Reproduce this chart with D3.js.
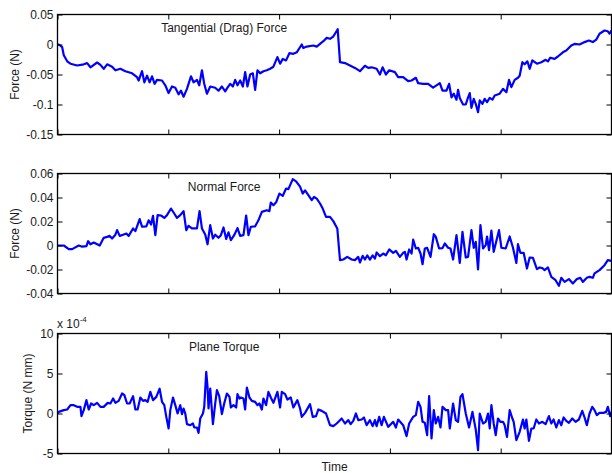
<!DOCTYPE html>
<html>
<head>
<meta charset="utf-8">
<script src="https://cdn.jsdelivr.net/npm/d3@7"></script>
<style>
  html, body { margin: 0; padding: 0; background: #fff; }
  svg { display: block; }
  text { font-family: "Liberation Sans", Arial, Helvetica, sans-serif; fill: #1a1a1a; }
</style>
</head>
<body>
<svg id="chart" width="612" height="473"></svg>
<script>
// ---------------- DATA ----------------
// time axis (sample units, unlabeled ticks)
const timeDomain = [0, 555];
const timeTicks = [0, 111, 222, 333, 444, 555];

// Panel titles / labels
const titles = ["Tangential (Drag) Force", "Normal Force", "Plane Torque"];
const yLabels = ["Force (N)", "Force (N)", "Torque (N mm)"];
const xLabel = "Time";

// Y tick values and labels
const tangTicks = [-0.15, -0.1, -0.05, 0, 0.05];
const tangTickLabels = ["-0.15", "-0.1", "-0.05", "0", "0.05"];
const normTicks = [-0.04, -0.02, 0, 0.02, 0.04, 0.06];
const normTickLabels = ["-0.04", "-0.02", "0", "0.02", "0.04", "0.06"];
const torqTicks = [-5, 0, 5, 10];          // in units of 10^-4
const torqTickLabels = ["-5", "0", "5", "10"];
const torqExponent = "-4";

// Tangential (drag) force [N]: [time, value]
const tangential = [[0,0],[1.3,0],[4.7,-0.0045],[6.3,-0.018],[9.7,-0.028],[13,-0.032],[19.7,-0.035],[26.3,-0.033],[29.7,-0.031],[33,-0.038],[39.7,-0.030],[43,-0.034],[46.3,-0.0405],[49.7,-0.033],[54.7,-0.037],[58,-0.043],[63,-0.0405],[68,-0.0445],[74.7,-0.048],[79.7,-0.0545],[81.3,-0.06],[84.7,-0.0445],[87,-0.063],[89.7,-0.052],[92.3,-0.063],[94.7,-0.053],[97.3,-0.0655],[99.7,-0.059],[104.7,-0.06],[108,-0.068],[111.3,-0.081],[114.7,-0.07],[118,-0.072],[121.3,-0.083],[123.7,-0.077],[126.3,-0.087],[129.7,-0.074],[133.7,-0.053],[136.3,-0.063],[139.7,-0.059],[142,-0.068],[144.7,-0.043],[147,-0.0655],[149.7,-0.082],[153,-0.07],[158,-0.072],[161.3,-0.077],[164.7,-0.07],[168,-0.078],[170.3,-0.072],[173,-0.0655],[175.7,-0.07],[178,-0.059],[180.3,-0.068],[183,-0.06],[185.7,-0.07],[188,-0.046],[190.3,-0.07],[193,-0.05],[195.7,-0.048],[198,-0.0755],[200.3,-0.043],[203,-0.048],[206.3,-0.0445],[209.7,-0.043],[213,-0.0405],[216.3,-0.037],[220.3,-0.021],[223,-0.032],[225.7,-0.024],[229,-0.0265],[232.3,-0.0145],[236.3,-0.0155],[239.7,-0.013],[244.7,0],[246.3,-0.006],[249.7,-0.0035],[256.3,-0.0017],[259.7,-0.0035],[263,0.001],[266.3,0.0055],[269.7,0.011],[273,0.0095],[276.3,0.0133],[280.7,0.0255],[283,-0.0295],[288,-0.031],[293,-0.035],[298,-0.039],[303,-0.0445],[308,-0.0355],[311.3,-0.039],[314.7,-0.038],[319.7,-0.0405],[323,-0.05],[325.7,-0.038],[329,-0.05],[332.3,-0.043],[338,-0.046],[341.3,-0.0545],[346.3,-0.0545],[351.3,-0.061],[354.7,-0.06],[359,-0.0555],[361.3,-0.0645],[366.3,-0.0655],[371.3,-0.0655],[376.3,-0.072],[383,-0.0645],[385.7,-0.077],[389.7,-0.077],[392.3,-0.0655],[394.7,-0.088],[397,-0.082],[399.7,-0.092],[401.3,-0.0755],[403,-0.089],[406.3,-0.1],[409,-0.1],[411.3,-0.088],[413,-0.081],[414.7,-0.1055],[417,-0.0905],[419,-0.099],[421.3,-0.113],[423,-0.093],[425.7,-0.099],[428,-0.0905],[430.3,-0.096],[433,-0.089],[435.7,-0.092],[438,-0.085],[443,-0.082],[446.3,-0.074],[449.7,-0.0795],[452.3,-0.059],[454.7,-0.071],[458,-0.059],[461.3,-0.0555],[463,-0.052],[465.7,-0.0295],[468,-0.033],[470.7,-0.028],[473,-0.0405],[475.7,-0.0265],[480.3,-0.032],[484.7,-0.0295],[489,-0.0255],[491.3,-0.028],[493.7,-0.022],[498,-0.024],[501.3,-0.02],[506.3,-0.013],[509.7,-0.01],[514.7,-0.0017],[518,0.001],[523,0],[528,0.004],[532.3,0.0067],[536.3,0.004],[539.7,0.008],[543,0.018],[548,0.0233],[551.3,0.022],[553,0.018],[555,0.0233]];

// Normal force [N]: [time, value]
const normal = [[0,0],[6.3,0],[11.3,-0.003],[14.7,-0.003],[21.3,0],[24.7,-0.001],[29,-0.0005],[30.7,0.0036],[33,0.001],[36.3,0.0025],[42.3,0],[46.3,0.0064],[49.7,0.0072],[52.3,0.008],[54.7,0.0058],[58,0.009],[59.7,0.0128],[62.3,0.008],[65.7,0.009],[69,0.01],[71.3,0.008],[75.7,0.0142],[78,0.012],[82.3,0.022],[84.7,0.0156],[89,0.016],[91.3,0.021],[93.7,0.0175],[95.7,0.0247],[98,0.0086],[100.3,0.0253],[103.7,0.025],[107,0.023],[109.7,0.0253],[113.7,0.0308],[116.3,0.0275],[119.7,0.023],[123,0.0253],[126.3,0.0286],[129,0.0128],[131.3,0.0164],[134.7,0.0142],[139.7,0.0142],[142.3,0.0286],[144.7,0.0142],[148,0.0092],[150.3,0.001],[153,0.017],[155.7,0.0058],[158,0.009],[161.3,0.0064],[163.7,0.0086],[166.3,0.015],[169,0.0055],[171.3,0.011],[173.7,0.0044],[177,0.0086],[180.3,0.0145],[183,0.008],[186.3,0.0086],[189,0.025],[191.3,0.0086],[193.7,0.0156],[198,0.016],[201.3,0.021],[204.7,0.028],[209.7,0.0294],[212.3,0.0286],[213.7,0.0358],[216.3,0.0336],[219,0.036],[222.3,0.0433],[225.7,0.0414],[229,0.0475],[231.3,0.047],[235.7,0.0553],[239,0.0535],[243,0.049],[245.7,0.0433],[248,0.046],[251.3,0.042],[254.7,0.0378],[257,0.0405],[259.7,0.039],[263,0.035],[265.7,0.0308],[269,0.0238],[273,0.0238],[276.3,0.0203],[280.3,0.0142],[283,-0.0122],[286.3,-0.0117],[290.3,-0.0095],[294.7,-0.0117],[298,-0.0122],[301.3,-0.0095],[303,-0.0142],[305.7,-0.0086],[308,-0.0117],[310.3,-0.0083],[313,-0.0117],[315.7,-0.0083],[318,-0.011],[319.7,-0.0058],[323,-0.0089],[326.3,-0.0067],[329,-0.0081],[332.3,-0.0033],[336.3,-0.0061],[339,-0.0045],[343,-0.0095],[346.3,-0.0061],[348,-0.0053],[349.7,-0.0117],[352.3,-0.0033],[354.7,-0.0067],[356.3,0.005],[359,-0.0025],[361.3,-0.0019],[363.7,-0.0067],[365.7,-0.0156],[368,-0.0025],[370.3,-0.0019],[373.7,-0.0095],[377,0.0094],[379,0.0072],[382.3,-0.0025],[385.7,-0.0022],[388,0.0017],[391.3,-0.0019],[393.7,-0.0025],[396.3,-0.0117],[399.7,0.0086],[403,-0.0145],[405.7,0.0114],[409,-0.01],[411.3,-0.0095],[414.7,0.0128],[417,-0.0019],[419,0.003],[421.3,-0.02],[423.7,0.0169],[426.3,-0.0025],[429,0.0003],[430.3,0.0075],[432.3,-0.0039],[434.7,0.0125],[437,-0.0053],[439.7,0.0039],[442.3,0.0128],[444.7,-0.0019],[449,-0.0025],[453,0.0075],[456.3,-0.0019],[459.7,-0.0145],[461.3,0.0011],[463.7,-0.0061],[467,-0.0061],[470.3,-0.0192],[473,-0.01],[476.3,-0.0103],[480.3,-0.0197],[483,-0.0183],[485.7,-0.0189],[488,-0.0205],[491.3,-0.0183],[494.7,-0.0261],[499,-0.0289],[502.3,-0.0336],[504.7,-0.0269],[508,-0.0303],[512.3,-0.028],[516.3,-0.0317],[520.3,-0.028],[523.7,-0.0269],[526.3,-0.0303],[530.3,-0.0269],[533,-0.0261],[536.3,-0.0269],[538,-0.0233],[543,-0.0205],[548,-0.0164],[551.3,-0.0122],[554.7,-0.0128]];

// Plane torque [x 10^-4 N mm]: [time, value]
const torque = [[0,0],[1.3,0.2],[6.3,0.42],[9.7,0.5],[13,1.04],[16.3,1.04],[19.7,0.83],[23,0.83],[24,-0.33],[26.3,0.42],[29,1.67],[31.3,0.5],[33.7,1.25],[36.3,1.04],[39.7,1.33],[43,0.83],[46.3,0.83],[50.3,1.33],[53,1.25],[55.7,1.875],[58,1.33],[61.3,1.58],[64.7,2.5],[67,2.29],[69.7,1.25],[72.3,1.25],[75.7,2.17],[78,0.5],[80.3,0.5],[83,2.0],[85.7,1.58],[88,1.67],[90.3,1.46],[93,2.7],[95.7,1.67],[99,2.08],[102.3,3.1],[104.7,1.46],[107,1.04],[109,-0.42],[111.3,-1.875],[113,0.42],[115.7,2.0],[118,1.04],[120.3,0],[123,1.04],[124.7,-0.08],[126.3,0.625],[128,0],[129.7,-1.33],[133,-1.46],[135.7,-1.25],[137,-1.75],[139.7,-1.75],[141.3,-2.42],[143,-0.625],[145.7,0],[147,0.83],[149,5.2],[150.3,3.33],[151.3,0.625],[153,3.125],[155.7,-1.33],[158,1.25],[159.7,2.92],[162,2.17],[164.7,-0.08],[167,1.25],[169.7,2.5],[172.3,2.08],[173.7,0.75],[176.3,1.04],[179,0.75],[180.3,2.42],[182.3,1.875],[183.7,2.0],[186.3,1.875],[188,0.5],[189.7,3.25],[192.3,2.0],[194.7,1.58],[198,1.46],[200.3,1.04],[202.3,1.25],[204.7,0.5],[206.3,1.875],[209,1.04],[211.3,2.7],[213.7,2.0],[216.3,1.33],[220.3,2.7],[223,0.75],[224.7,2.7],[228,2.42],[230.3,1.75],[233.7,2.0],[236.3,0.75],[240.3,1.67],[243,0.625],[244.7,-0.42],[248,0.08],[253,1.17],[255.7,-0.42],[259,-0.33],[261.3,0.5],[264.7,0.33],[269,0],[273,-1.46],[276.3,-1.58],[279.7,-1.25],[284.7,-0.625],[288,-1.25],[291.3,-0.83],[293.7,-1.33],[296.3,-0.92],[299,0],[301.3,-0.83],[304.7,-0.75],[307,-0.5],[309.7,-1.46],[313,-0.83],[315.7,-1.58],[318,-0.83],[319.7,-1.58],[322.3,-0.42],[324.7,-1.46],[327,-0.42],[331.3,-1.67],[336.3,-1.04],[339,-1.75],[341.3,-0.75],[346.3,-1.46],[349.7,-2.83],[352.3,-1.25],[356.3,-0.42],[359,-0.2],[361.3,1.46],[363.7,0.83],[365.7,-1.04],[368,-1.17],[370.3,-2.7],[372.3,2.17],[374.7,-3.125],[377,0.42],[379,-1.25],[381.3,-0.42],[383.7,-1.75],[385.7,0.83],[389,0.42],[391.3,0.42],[393,-1.875],[396.3,1.25],[399,-0.83],[401.3,-1.04],[403.7,2.08],[405.7,2.42],[409,0],[412.3,-1.75],[415.7,0.2],[419,-2.0],[421.3,-4.58],[423,0],[426.3,-1.25],[429,-1.04],[431.3,0],[433,-1.875],[434.7,1.04],[437,-1.25],[439,-2.7],[441.3,-0.625],[443.7,-1.04],[446.3,-1.04],[448,-1.46],[450.3,-2.92],[453,0.42],[455.7,-0.625],[457,-1.04],[459.7,-3.33],[463,-2.29],[466.3,-0.75],[468,-1.875],[469.7,-0.75],[472.3,-3.42],[474.7,-1.875],[477,-1.875],[479.7,-0.75],[482.3,-1.25],[485.7,-1.04],[489,-1.33],[492.3,-0.33],[494.7,-1.25],[497,-0.75],[499.7,-1.75],[502.3,-0.83],[504.7,-1.46],[507,-0.5],[509.7,-0.92],[512.3,-1.17],[515.7,-0.625],[519,-1.04],[522.3,-0.75],[525.7,0.33],[528,-0.5],[530.3,-1.46],[533,0],[535.7,0.83],[538,0.42],[540.3,-0.2],[543,0.08],[547,0.08],[549.7,0.2],[551.3,0.83],[553.7,-0.33],[555,0.2]];

// ---------------- DRAW ----------------
const svg = d3.select("#chart");
const X0 = 57.5, X1 = 611.5;
const x = d3.scaleLinear().domain(timeDomain).range([X0, X1]);

const panels = [
  { data: tangential, domain: [-0.15, 0.05], ticks: tangTicks, labels: tangTickLabels, top: 14.5, bottom: 134.5, title: titles[0], ylabel: yLabels[0], ylx: 18.5 },
  { data: normal, domain: [-0.04, 0.06], ticks: normTicks, labels: normTickLabels, top: 173.5, bottom: 293.5, title: titles[1], ylabel: yLabels[1], ylx: 18.5 },
  { data: torque, domain: [-5, 10], ticks: torqTicks, labels: torqTickLabels, top: 333.5, bottom: 453.5, title: titles[2], ylabel: yLabels[2], ylx: 32 }
];

const FS = 12, TL = 5;

panels.forEach((p, i) => {
  const y = d3.scaleLinear().domain(p.domain).range([p.bottom, p.top]);
  const g = svg.append("g");

  const clipId = "clip" + i;
  svg.append("clipPath").attr("id", clipId).append("rect")
    .attr("x", X0).attr("y", p.top).attr("width", X1 - X0).attr("height", p.bottom - p.top);

  g.append("path")
    .datum(p.data)
    .attr("clip-path", `url(#${clipId})`)
    .attr("fill", "none")
    .attr("stroke", "#0000ff")
    .attr("stroke-width", 2.2)
    .attr("stroke-linejoin", "round")
    .attr("d", d3.line().x(d => x(d[0])).y(d => y(d[1])));

  const axL = d3.axisLeft(y).tickValues(p.ticks).tickSize(-TL).tickFormat((d, k) => p.labels[k]).tickPadding(4);
  const axR = d3.axisRight(y).tickValues(p.ticks).tickSize(-TL).tickFormat("");
  const axB = d3.axisBottom(x).tickValues(timeTicks).tickSize(-TL).tickFormat("");
  const axT = d3.axisTop(x).tickValues(timeTicks).tickSize(-TL).tickFormat("");

  const styleAxis = sel => {
    sel.select(".domain").remove();
    sel.selectAll(".tick line").attr("stroke", "#000").attr("stroke-width", 1);
    sel.selectAll(".tick text").style("font-size", FS + "px").attr("fill", "#1a1a1a")
      .style("font-family", '"Liberation Sans", Arial, sans-serif');
  };
  g.append("g").attr("transform", `translate(${X0},0)`).call(axL).call(styleAxis);
  g.append("g").attr("transform", `translate(${X1},0)`).call(axR).call(styleAxis);
  g.append("g").attr("transform", `translate(0,${p.bottom})`).call(axB).call(styleAxis);
  g.append("g").attr("transform", `translate(0,${p.top})`).call(axT).call(styleAxis);
  g.append("rect").attr("x", X0).attr("y", p.top).attr("width", X1 - X0).attr("height", p.bottom - p.top)
    .attr("fill", "none").attr("stroke", "#000").attr("stroke-width", 1.3);

  g.append("text")
    .attr("x", x(167)).attr("y", p.top + 17.5)
    .attr("text-anchor", "middle").style("font-size", FS + "px")
    .text(p.title);

  g.append("text")
    .attr("transform", `translate(${p.ylx},${(p.top + p.bottom) / 2}) rotate(-90)`)
    .attr("text-anchor", "middle").style("font-size", FS + "px")
    .text(p.ylabel);

  if (i === 2) {
    const ex = g.append("text").attr("x", X0 - 0.5).attr("y", p.top - 6).style("font-size", FS + "px");
    ex.append("tspan").text("x 10");
    ex.append("tspan").attr("dy", -6).style("font-size", "8px").text(torqExponent);
    g.append("text")
      .attr("x", (X0 + X1) / 2).attr("y", 470.5)
      .attr("text-anchor", "middle").style("font-size", FS + "px")
      .text(xLabel);
  }
});
</script>
</body>
</html>
